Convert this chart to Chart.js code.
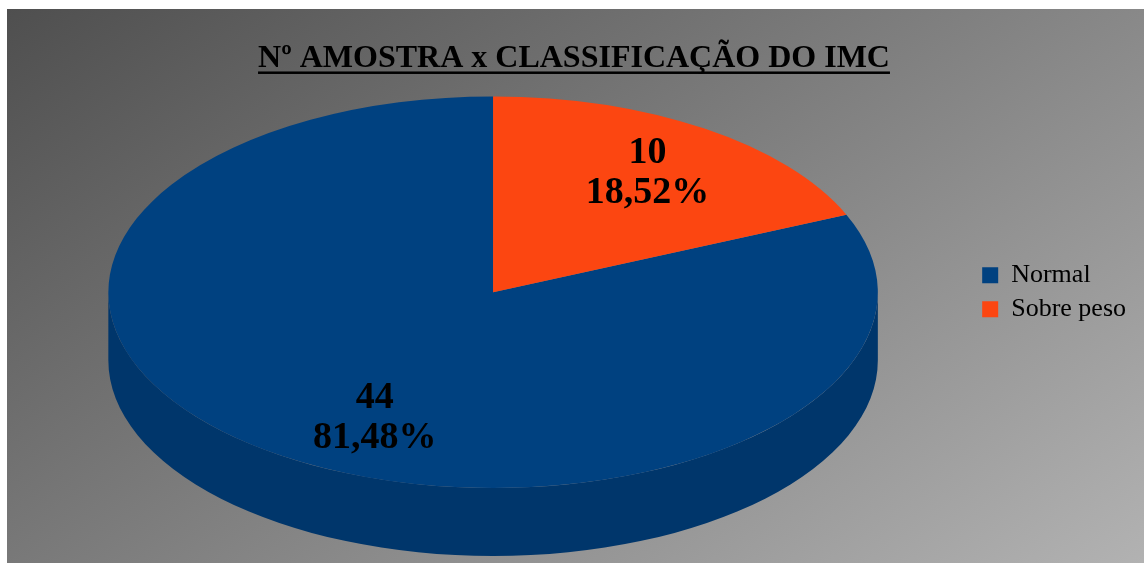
<!DOCTYPE html>
<html lang="pt-BR">
<head>
<meta charset="utf-8">
<title>Nº Amostra x Classificação do IMC</title>
<script src="https://cdn.jsdelivr.net/npm/chart.js@4.4.1/dist/chart.umd.min.js"></script>
<style>
  html, body { margin: 0; padding: 0; background: #fff; }
  #wrap { position: relative; width: 1144px; height: 563px; overflow: hidden; }
  #panel { position: absolute; left: 7px; top: 9px; width: 1137px; height: 554px;
           background: linear-gradient(146deg, #4f4f4f 0%, #b2b2b2 100%); }
  #chart { position: absolute; left: 0; top: 0; }
</style>
</head>
<body>
<div id="wrap">
  <div id="panel"></div>
  <canvas id="chart" width="1144" height="563"></canvas>
</div>
<script>
const categories = ['Normal', 'Sobre peso'];
const amostras = [44, 10];
const topColors = ['#004180', '#fc4611'];
const sideColors = ['#00366b', '#c8350a'];

const total = amostras.reduce((a, b) => a + b, 0);
const percentLabels = amostras.map(v => (v / total * 100).toFixed(2).replace('.', ',') + '%');

// tilted pie: stretch the flat pie sideways and extrude a wall under the front half
const pie3d = {
    id: 'pie3d',
    beforeDatasetsDraw(chart, args, opts) {
        const ctx = chart.ctx;
        ctx.save();
        const arcs = chart.getDatasetMeta(0).data;
        if (!arcs.length) return;
        const { x, y, outerRadius } = arcs[0];
        ctx.translate(x, y);
        ctx.scale(opts.stretch, 1);
        ctx.translate(-x, -y);

        arcs.forEach((arc, i) => {
            const s = arc.startAngle, e = arc.endAngle;
            for (let k = -1; k <= 1; k++) {
                const lo = Math.max(s, 2 * Math.PI * k);
                const hi = Math.min(e, 2 * Math.PI * k + Math.PI);
                if (hi <= lo) continue;
                ctx.beginPath();
                ctx.arc(x, y, outerRadius, lo, hi);
                ctx.arc(x, y + opts.depth, outerRadius, hi, lo, true);
                ctx.closePath();
                ctx.fillStyle = opts.sideColors[i];
                ctx.fill();
            }
        });
    },
    afterDatasetsDraw(chart, args, opts) {
        const ctx = chart.ctx;
        ctx.restore();

        // value + percentage inside each slice
        const arcs = chart.getDatasetMeta(0).data;
        ctx.save();
        ctx.font = 'bold 38px "Liberation Serif"';
        ctx.fillStyle = '#000';
        ctx.textAlign = 'center';
        ctx.textBaseline = 'middle';
        arcs.forEach((arc, i) => {
            const mid = (arc.startAngle + arc.endAngle) / 2;
            const f = opts.labelRadius[i];
            const lx = arc.x + Math.cos(mid) * arc.outerRadius * f * opts.stretch;
            const ly = arc.y + Math.sin(mid) * arc.outerRadius * f
                + opts.depth * 0.6 * Math.max(0, Math.sin(mid));
            ctx.fillText(String(amostras[i]), lx, ly - 20);
            ctx.fillText(percentLabels[i], lx, ly + 20);
        });
        ctx.restore();
    }
};

// Chart.js title has no underline option
const titleUnderline = {
    id: 'titleUnderline',
    afterDraw(chart) {
        const t = chart.titleBlock;
        if (!t || !t.options.display) return;
        const ctx = chart.ctx;
        const font = Chart.helpers.toFont(t.options.font);
        const pad = Chart.helpers.toPadding(t.options.padding);
        ctx.save();
        ctx.font = font.string;
        ctx.textBaseline = 'middle';
        const w = ctx.measureText(t.options.text).width;
        const below = ctx.measureText('N').actualBoundingBoxDescent;
        const cy = t.top + pad.top + font.lineHeight / 2;
        const cx = (t.left + t.right) / 2;
        ctx.fillStyle = t.options.color;
        ctx.fillRect(cx - w / 2, cy + below + 4, w, 2.5);
        ctx.restore();
    }
};

new Chart(document.getElementById('chart'), {
    type: 'pie',
    data: {
        labels: categories,
        datasets: [{
            data: amostras,
            backgroundColor: topColors,
            borderWidth: 0,
            clip: false
        }]
    },
    plugins: [pie3d, titleUnderline],
    options: {
        responsive: false,
        animation: false,
        events: [],
        // first slice ends where "Sobre peso" begins at twelve o'clock
        rotation: 360 * amostras[1] / total,
        layout: {
            padding: { left: 12, right: 8, top: 0, bottom: 75 }
        },
        plugins: {
            title: {
                display: true,
                text: 'Nº AMOSTRA x CLASSIFICAÇÃO DO IMC',
                color: '#000',
                font: { family: '"Liberation Serif"', size: 32, weight: 'bold', lineHeight: 1.2 },
                padding: { top: 40, bottom: 18 }
            },
            legend: {
                position: 'right',
                fullSize: false,
                labels: {
                    color: '#000',
                    boxWidth: 16,
                    boxHeight: 16,
                    padding: 8,
                    font: { family: '"Liberation Serif"', size: 26 }
                }
            },
            tooltip: { enabled: false },
            pie3d: {
                stretch: 1.965,
                depth: 68,
                sideColors: sideColors,
                labelRadius: [0.56, 0.73]
            }
        }
    }
});
</script>
</body>
</html>
